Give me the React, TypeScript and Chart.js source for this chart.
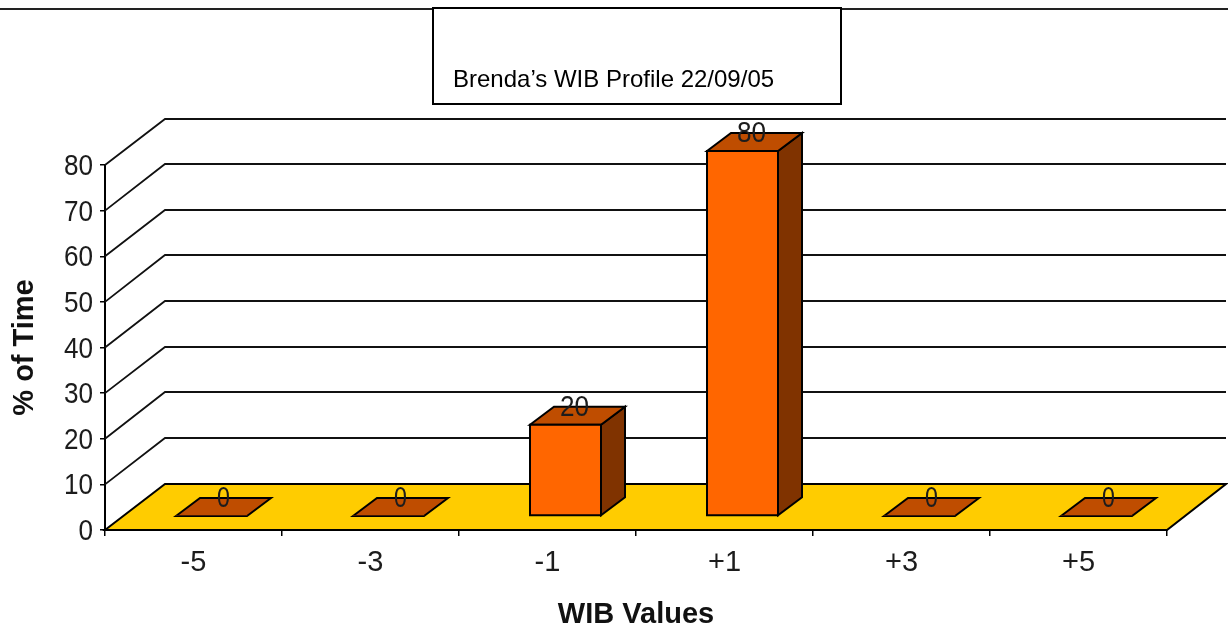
import { useEffect, useRef } from "react";
import { Chart, registerables } from "chart.js";

Chart.register(...registerables);

// Percentage of time spent at each WIB value.
const categories = ["-5", "-3", "-1", "+1", "+3", "+5"];
const percentOfTime = [0, 0, 20, 80, 0, 0];
const valueTicks = [0, 10, 20, 30, 40, 50, 60, 70, 80];
const chartTitle = "Brenda\u2019s WIB Profile 22/09/05";
const xAxisTitle = "WIB Values";
const yAxisTitle = "% of Time";

const INK = "#1c1c1c";
const FRONT = "#ff6600";
const TOP = "#bf4d00";
const SIDE = "#803300";
const FLOOR = "#ffcc00";

const TICK_FONT = { family: "'Liberation Sans', sans-serif", size: 29 };
const AXIS_TITLE_FONT = { family: "'Liberation Sans', sans-serif", size: 29, weight: "bold" };

// Depth of the whole plot box and the depth of a single bar.
const WALL_DX = 60;
const WALL_DY = 46;
const BAR_DX = 24;
const BAR_DY = 18;
// Bars stand a little way back from the front edge of the floor.
const BAR_SHIFT_X = 18;
const BAR_SHIFT_Y = -14;
// Digits are set slightly narrower than the font's natural width.
const DIGIT_SQUEEZE = 0.9;

function poly(ctx: CanvasRenderingContext2D, pts: number[][], fill: string | null) {
  ctx.beginPath();
  pts.forEach(([x, y], i) => (i ? ctx.lineTo(x, y) : ctx.moveTo(x, y)));
  ctx.closePath();
  if (fill) {
    ctx.fillStyle = fill;
    ctx.fill();
  }
  ctx.strokeStyle = "#000";
  ctx.lineWidth = 2;
  ctx.stroke();
}

const pseudo3d = {
  id: "pseudo3d",
  beforeDatasetsDraw(chart: any) {
    const { ctx, chartArea, scales } = chart;
    const { left, right, bottom } = chartArea;
    const backRight = right + WALL_DX - 1;
    ctx.save();
    // Wall lines: oblique run up from the value axis, then across the back.
    ctx.strokeStyle = "#111";
    ctx.lineWidth = 1.8;
    scales.y.ticks.forEach((t: any) => {
      if (t.value === 0) return;
      const y = scales.y.getPixelForValue(t.value);
      const backY = Math.floor(y - WALL_DY);
      ctx.beginPath();
      ctx.moveTo(left, y);
      ctx.lineTo(left + WALL_DX, backY);
      ctx.lineTo(backRight, backY);
      ctx.stroke();
    });
    // Floor
    poly(
      ctx,
      [
        [left, bottom],
        [left + WALL_DX, bottom - WALL_DY],
        [backRight, bottom - WALL_DY],
        [right, bottom],
      ],
      FLOOR,
    );
    // Side and top faces of each bar
    chart.getDatasetMeta(0).data.forEach((bar: any) => {
      const w = bar.width / 2;
      const x0 = bar.x - w + BAR_SHIFT_X;
      const x1 = bar.x + w + BAR_SHIFT_X;
      const yTop = bar.y + BAR_SHIFT_Y;
      const yBase = bar.base + BAR_SHIFT_Y;
      if (yBase - yTop > 1) {
        poly(
          ctx,
          [
            [x1, yTop],
            [x1 + BAR_DX, yTop - BAR_DY],
            [x1 + BAR_DX, yBase - BAR_DY],
            [x1, yBase],
          ],
          SIDE,
        );
      }
      poly(
        ctx,
        [
          [x0, yTop],
          [x0 + BAR_DX, yTop - BAR_DY],
          [x1 + BAR_DX, yTop - BAR_DY],
          [x1, yTop],
        ],
        TOP,
      );
    });
    ctx.restore();
  },
  beforeDatasetDraw(chart: any) {
    chart.ctx.save();
    chart.ctx.translate(BAR_SHIFT_X, BAR_SHIFT_Y);
  },
  afterDatasetDraw(chart: any) {
    chart.ctx.restore();
  },
  afterDatasetsDraw(chart: any) {
    const { ctx } = chart;
    chart.getDatasetMeta(0).data.forEach((bar: any, i: number) => {
      // Firm outline round the front face.
      if (bar.base - bar.y > 1) {
        const w = bar.width / 2;
        ctx.save();
        poly(
          ctx,
          [
            [bar.x - w + BAR_SHIFT_X, bar.y + BAR_SHIFT_Y],
            [bar.x + w + BAR_SHIFT_X, bar.y + BAR_SHIFT_Y],
            [bar.x + w + BAR_SHIFT_X, bar.base + BAR_SHIFT_Y],
            [bar.x - w + BAR_SHIFT_X, bar.base + BAR_SHIFT_Y],
          ],
          null,
        );
        ctx.restore();
      }
      // Value captions sit on the top face of each bar.
      const offsetX = percentOfTime[i] ? 9 : 12;
      ctx.save();
      ctx.translate(bar.x + BAR_SHIFT_X + offsetX, bar.y + BAR_SHIFT_Y - 17);
      ctx.scale(percentOfTime[i] ? DIGIT_SQUEEZE : 0.8, 1);
      ctx.font = `${TICK_FONT.size}px ${TICK_FONT.family}`;
      ctx.fillStyle = INK;
      ctx.textAlign = "center";
      ctx.textBaseline = "middle";
      ctx.fillText(String(percentOfTime[i]), 0, 0);
      ctx.restore();
    });
  },
  afterDraw(chart: any) {
    const { ctx, width } = chart;
    ctx.save();
    // Rule along the top of the page and the boxed title over it.
    ctx.strokeStyle = "#222";
    ctx.lineWidth = 2;
    ctx.beginPath();
    ctx.moveTo(0, 9);
    ctx.lineTo(width, 9);
    ctx.stroke();
    ctx.fillStyle = "#fff";
    ctx.fillRect(433, 8, 408, 96);
    ctx.strokeStyle = "#000";
    ctx.strokeRect(433, 8, 408, 96);
    ctx.fillStyle = "#000";
    ctx.font = "24px 'Liberation Sans', Arial, sans-serif";
    ctx.textAlign = "left";
    ctx.textBaseline = "alphabetic";
    ctx.fillText(chartTitle, 453, 87);
    ctx.restore();
  },
};

// Narrow the value-axis digits about the axis's right edge.
function squeezeLabels(scale: any) {
  if (scale.$squeezed) return;
  scale.$squeezed = true;
  const drawLabels = scale.drawLabels.bind(scale);
  scale.drawLabels = (area: any) => {
    const { ctx } = scale;
    ctx.save();
    ctx.translate(scale.right - 12, 2);
    ctx.scale(DIGIT_SQUEEZE, 1);
    ctx.translate(-(scale.right - 7), 0);
    drawLabels(area);
    ctx.restore();
  };
}

export default function App() {
  const ref = useRef<HTMLCanvasElement>(null);
  useEffect(() => {
    document.body.style.margin = "0";
    const chart = new Chart(ref.current!, {
      type: "bar",
      plugins: [pseudo3d],
      data: {
        labels: categories,
        datasets: [
          {
            data: percentOfTime,
            backgroundColor: FRONT,
            borderColor: "#000",
            borderWidth: 0,
            barThickness: 71,
          },
        ],
      },
      options: {
        animation: false,
        responsive: false,
        layout: { padding: { top: 165, right: 61, left: 0, bottom: 0 } },
        plugins: { legend: { display: false }, tooltip: { enabled: false } },
        scales: {
          x: {
            afterFit: (s: any) => {
              s.height = 102;
            },
            border: { color: "#000", width: 2 },
            grid: { drawOnChartArea: false, color: "#000", lineWidth: 1.5, tickLength: 6 },
            ticks: { color: INK, font: TICK_FONT, padding: 10, maxRotation: 0 },
            title: {
              display: true,
              text: xAxisTitle,
              color: "#111",
              font: AXIS_TITLE_FONT,
              padding: { top: 0, bottom: 0 },
            },
          },
          y: {
            min: 0,
            max: 80,
            afterFit: (s: any) => {
              s.width = 105;
            },
            afterBuildTicks: (s: any) => {
              s.ticks = valueTicks.map((value) => ({ value }));
            },
            afterUpdate: squeezeLabels,
            border: { color: "#000", width: 2 },
            grid: { drawOnChartArea: false, color: "#000", lineWidth: 1.5, tickLength: 5 },
            ticks: { color: INK, font: TICK_FONT, padding: 2 },
            title: {
              display: true,
              text: yAxisTitle,
              color: "#111",
              font: AXIS_TITLE_FONT,
              padding: { top: 8, bottom: 0 },
            },
          },
        },
      },
    });
    return () => chart.destroy();
  }, []);
  return <canvas ref={ref} width={1228} height={632} style={{ display: "block" }} />;
}
